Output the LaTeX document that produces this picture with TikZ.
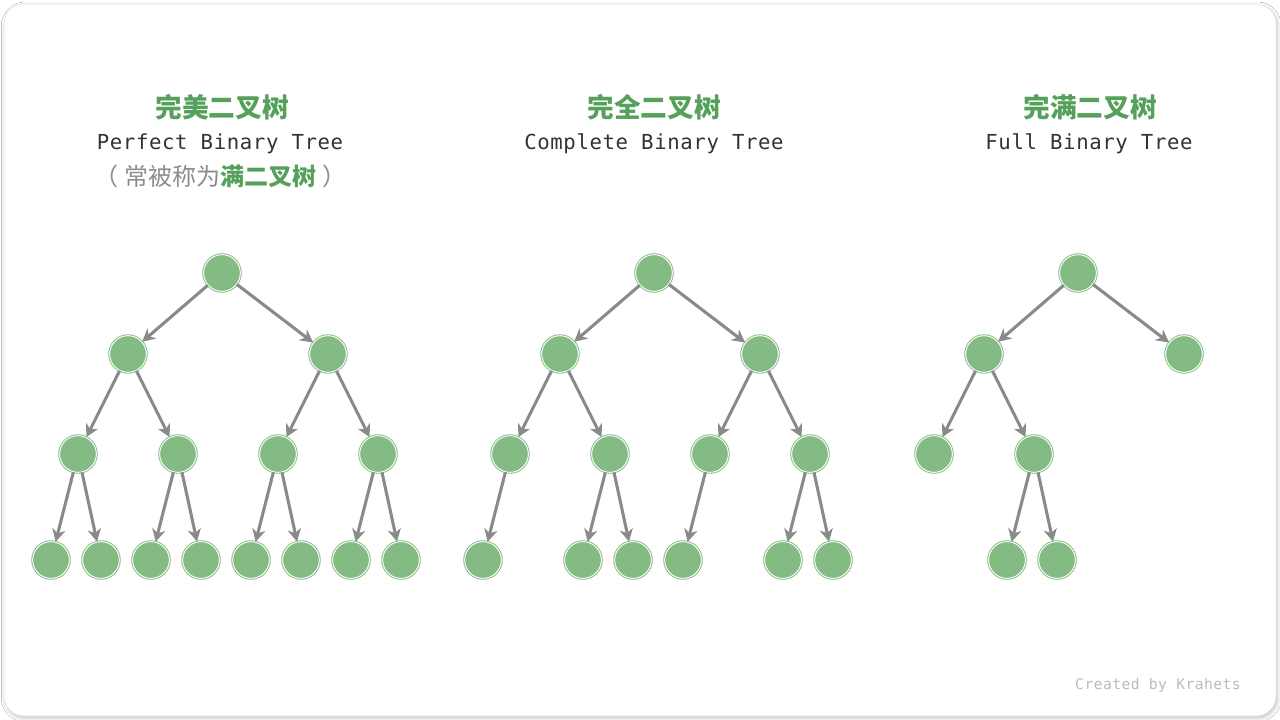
\documentclass[tikz,border=0pt]{standalone}
\usepackage{fontspec}
\usetikzlibrary{arrows.meta,shadows.blur}
\newfontfamily\cjk{Noto Sans CJK SC}
\newfontfamily\mono{DejaVu Sans Mono}[LetterSpace=3]
\definecolor{ngreen}{HTML}{84BA84}
\definecolor{tgreen}{HTML}{55A05A}
\definecolor{egray}{HTML}{8A8A8A}
\definecolor{tdark}{HTML}{333333}
\definecolor{sgray}{HTML}{8C8C8C}
\definecolor{cgray}{HTML}{BBBBBB}
\tikzset{
  tnode/.style={circle, minimum size=27.5pt, inner sep=0pt, fill=ngreen, draw=ngreen, line width=0.7pt, double=white, double distance=0.7pt},
  edge/.style={draw=egray, line width=2.3pt, -{Stealth[length=9.5pt,width=10pt,inset=3pt]}},
  cntitle/.style={font=\cjk\bfseries\fontsize{20pt}{24pt}\selectfont, text=tgreen},
  entitle/.style={font=\mono\fontsize{15.5pt}{18pt}\selectfont, text=tdark},
}
\begin{document}
\begin{tikzpicture}[x=0.75pt,y=-0.75pt]
\useasboundingbox (0,0) rectangle (1280,720);
\fill[white] (0,0) rectangle (1280,720);
\node[draw=black!10, fill=white, rounded corners=15pt, blur shadow={shadow xshift=1pt, shadow yshift=-1.5pt, shadow blur radius=3pt, shadow opacity=25}, minimum width=954pt, minimum height=534pt, inner sep=0pt] (frame) at (640,360) {};

% titles
\node[cntitle] (t1) at (222,107) {完美二叉树};
\node[entitle] (e1) at (220,144) {Perfect Binary Tree};
\node[font=\cjk\fontsize{18pt}{22pt}\selectfont, text=sgray] (s1) at (222,176) {\hspace{-2pt}（\hspace{4.5pt}常被称为{\bfseries\color{tgreen}满二叉树}\hspace{4.5pt}）\hspace{-2pt}};
\node[cntitle] (t2) at (654,107) {完全二叉树};
\node[entitle] (e2) at (654,144) {Complete Binary Tree};
\node[cntitle] (t3) at (1090,107) {完满二叉树};
\node[entitle] (e3) at (1089,144) {Full Binary Tree};
\node[font=\mono\fontsize{11pt}{13pt}\selectfont, text=cgray] (cr) at (1158,685) {Created by Krahets};

% tree 1
\node[tnode] (a) at (222,273) {};
\node[tnode] (b1) at (128,354) {};
\node[tnode] (b2) at (328,354) {};
\node[tnode] (c1) at (78,454) {};
\node[tnode] (c2) at (178,454) {};
\node[tnode] (c3) at (278,454) {};
\node[tnode] (c4) at (378,454) {};
\node[tnode] (d1) at (51,560) {};
\node[tnode] (d2) at (101,560) {};
\node[tnode] (d3) at (151,560) {};
\node[tnode] (d4) at (201,560) {};
\node[tnode] (d5) at (251,560) {};
\node[tnode] (d6) at (301,560) {};
\node[tnode] (d7) at (351,560) {};
\node[tnode] (d8) at (401,560) {};
\draw[edge] (a) -- (b1);
\draw[edge] (a) -- (b2);
\draw[edge] (b1) -- (c1);
\draw[edge] (b1) -- (c2);
\draw[edge] (b2) -- (c3);
\draw[edge] (b2) -- (c4);
\draw[edge] (c1) -- (d1);
\draw[edge] (c1) -- (d2);
\draw[edge] (c2) -- (d3);
\draw[edge] (c2) -- (d4);
\draw[edge] (c3) -- (d5);
\draw[edge] (c3) -- (d6);
\draw[edge] (c4) -- (d7);
\draw[edge] (c4) -- (d8);

% tree 2
\node[tnode] (pa) at (654,273) {};
\node[tnode] (pb1) at (560,354) {};
\node[tnode] (pb2) at (760,354) {};
\node[tnode] (pc1) at (510,454) {};
\node[tnode] (pc2) at (610,454) {};
\node[tnode] (pc3) at (710,454) {};
\node[tnode] (pc4) at (810,454) {};
\node[tnode] (pd1) at (483,560) {};
\node[tnode] (pd2) at (583,560) {};
\node[tnode] (pd3) at (633,560) {};
\node[tnode] (pd4) at (683,560) {};
\node[tnode] (pd5) at (783,560) {};
\node[tnode] (pd6) at (833,560) {};
\draw[edge] (pa) -- (pb1);
\draw[edge] (pa) -- (pb2);
\draw[edge] (pb1) -- (pc1);
\draw[edge] (pb1) -- (pc2);
\draw[edge] (pb2) -- (pc3);
\draw[edge] (pb2) -- (pc4);
\draw[edge] (pc1) -- (pd1);
\draw[edge] (pc2) -- (pd2);
\draw[edge] (pc2) -- (pd3);
\draw[edge] (pc3) -- (pd4);
\draw[edge] (pc4) -- (pd5);
\draw[edge] (pc4) -- (pd6);

% tree 3
\node[tnode] (qa) at (1078,273) {};
\node[tnode] (qb1) at (984,354) {};
\node[tnode] (qb2) at (1184,354) {};
\node[tnode] (qc1) at (934,454) {};
\node[tnode] (qc2) at (1034,454) {};
\node[tnode] (qd1) at (1007,560) {};
\node[tnode] (qd2) at (1057,560) {};
\draw[edge] (qa) -- (qb1);
\draw[edge] (qa) -- (qb2);
\draw[edge] (qb1) -- (qc1);
\draw[edge] (qb1) -- (qc2);
\draw[edge] (qc2) -- (qd1);
\draw[edge] (qc2) -- (qd2);
\end{tikzpicture}
\end{document}
